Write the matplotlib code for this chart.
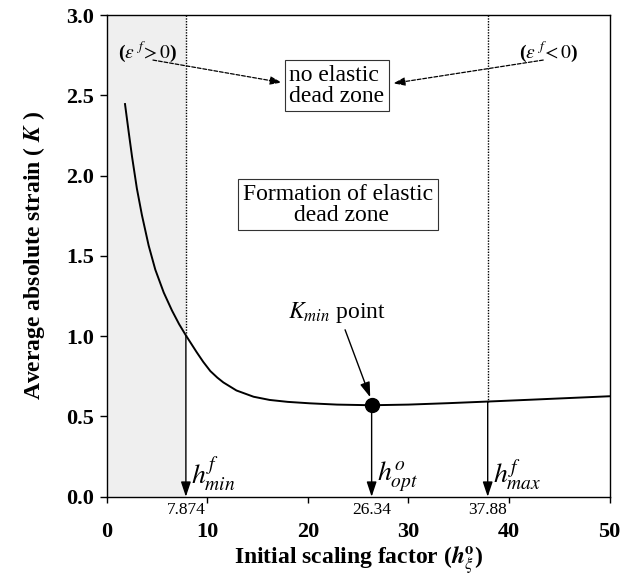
import matplotlib
matplotlib.use("Agg")
import matplotlib.pyplot as plt

plt.rcParams["font.family"] = ["Liberation Serif", "DejaVu Serif"]
plt.rcParams["mathtext.fontset"] = "stix"

# curve
h0 = [1.82, 2.19, 2.52, 3.0, 3.5, 4.17, 4.83, 5.67, 6.49, 7.2, 7.874,
      8.95, 9.6, 10.3, 11.0, 11.6, 12.9, 14.6, 16.2, 18.0, 20.2, 22.9,
      26.34, 30.0, 34.0, 37.88, 42.0, 46.0, 50.0]
K = [2.446, 2.27, 2.118, 1.92, 1.755, 1.565, 1.415, 1.272, 1.16, 1.075,
     1.005, 0.90, 0.84, 0.783, 0.742, 0.712, 0.662, 0.623, 0.603, 0.591,
     0.582, 0.574, 0.570, 0.574, 0.583, 0.593, 0.604, 0.615, 0.626]

h_min, K_at_min = 7.874, 1.005
h_opt, K_opt = 26.34, 0.570
h_max, K_at_max = 37.88, 0.593

fig = plt.figure(figsize=(6.37, 5.81), dpi=100)
ax = fig.add_axes([0.1675, 0.145, 0.7895, 0.829])

ax.axvspan(0, h_min, color="#efefef", lw=0, zorder=0)
ax.plot(h0, K, color="black", lw=1.4, zorder=3)

# dotted limits down to the curve, then solid arrows to the axis
for xv, kv in ((h_min, K_at_min), (h_max, K_at_max)):
    ax.plot([xv, xv], [3.0, kv], color="black", lw=1.0, ls=(0, (1, 1)), zorder=2)
for xv, kv in ((h_min, K_at_min), (h_opt, K_opt), (h_max, K_at_max)):
    ax.annotate("", xy=(xv, 0.0), xytext=(xv, kv),
                arrowprops=dict(arrowstyle="-|>,head_length=0.9,head_width=0.3",
                                color="black", lw=1.0, shrinkA=0, shrinkB=0),
                zorder=2)

ax.plot([h_opt], [K_opt], "o", color="black", ms=10, zorder=4)

# small value labels under the axis
for xv, lab in ((h_min, "7.874"), (h_opt, "26.34"), (h_max, "37.88")):
    ax.text(xv, -0.08, lab, ha="center", va="center", fontsize=12.5)

for xv, lab in ((h_min, r"$h^{f}_{min}$"), (h_opt, r"$h^{o}_{opt}$"),
                (h_max, r"$h^{f}_{max}$")):
    ax.text(xv + 0.5, 0.02, lab, fontsize=20, ha="left", va="bottom")

box = dict(boxstyle="square,pad=0.2", fc="white", ec="#333333", lw=0.8)
ax.text(22.9, 2.56, "no elastic\ndead zone", ha="center", va="center",
        multialignment="left", fontsize=17, bbox=box, linespacing=1.0, zorder=5)
ax.text(23.0, 1.82, "Formation of elastic\n dead zone", ha="center", va="center",
        fontsize=17, bbox=box, linespacing=1.0, zorder=5)

ax.text(4.1, 2.77, r"($\epsilon\ ^{f}\!>0$)", ha="center", va="center",
        fontsize=14, fontweight="bold")
ax.text(43.9, 2.77, r"($\epsilon\ ^{f}\!<0$)", ha="center", va="center",
        fontsize=14, fontweight="bold")
dash = dict(arrowstyle="-|>,head_length=0.7,head_width=0.25", color="black",
            lw=0.9, ls=(0, (3, 1.5)), shrinkA=0, shrinkB=0)
ax.annotate("", xy=(17.4, 2.58), xytext=(4.6, 2.72), arrowprops=dash)
ax.annotate("", xy=(28.5, 2.575), xytext=(43.4, 2.72), arrowprops=dash)

ax.text(22.9, 1.15, r"$K_{min}$ point", ha="center", va="center", fontsize=17)
ax.annotate("", xy=(26.2, 0.62), xytext=(23.7, 1.04),
            arrowprops=dict(arrowstyle="-|>,head_length=0.9,head_width=0.3",
                            color="black", lw=1.0, shrinkA=0, shrinkB=0))

ax.set_xlim(0, 50)
ax.set_ylim(0, 3.0)
ax.set_xticks([0, 10, 20, 30, 40, 50])
ax.set_yticks([0.0, 0.5, 1.0, 1.5, 2.0, 2.5, 3.0])
ax.set_yticklabels(["0.0", "0.5", "1.0", "1.5", "2.0", "2.5", "3.0"])
ax.tick_params(direction="out", length=4, width=1, labelsize=16, pad=14, axis="x")
ax.tick_params(direction="out", length=5, width=1, labelsize=16, pad=4, axis="y")
for lab in ax.get_xticklabels() + ax.get_yticklabels():
    lab.set_fontweight("bold")
for s in ax.spines.values():
    s.set_linewidth(1.0)

ax.set_xlabel(r"Initial scaling factor ($\mathbfit{h}^{\mathbf{o}}_{\xi}$)",
              fontsize=17, fontweight="bold", labelpad=2)
ax.set_ylabel(r"Average absolute strain ( $\mathbfit{K}$ )",
              fontsize=17, fontweight="bold", labelpad=14)

fig.savefig("out.png", dpi=100)
